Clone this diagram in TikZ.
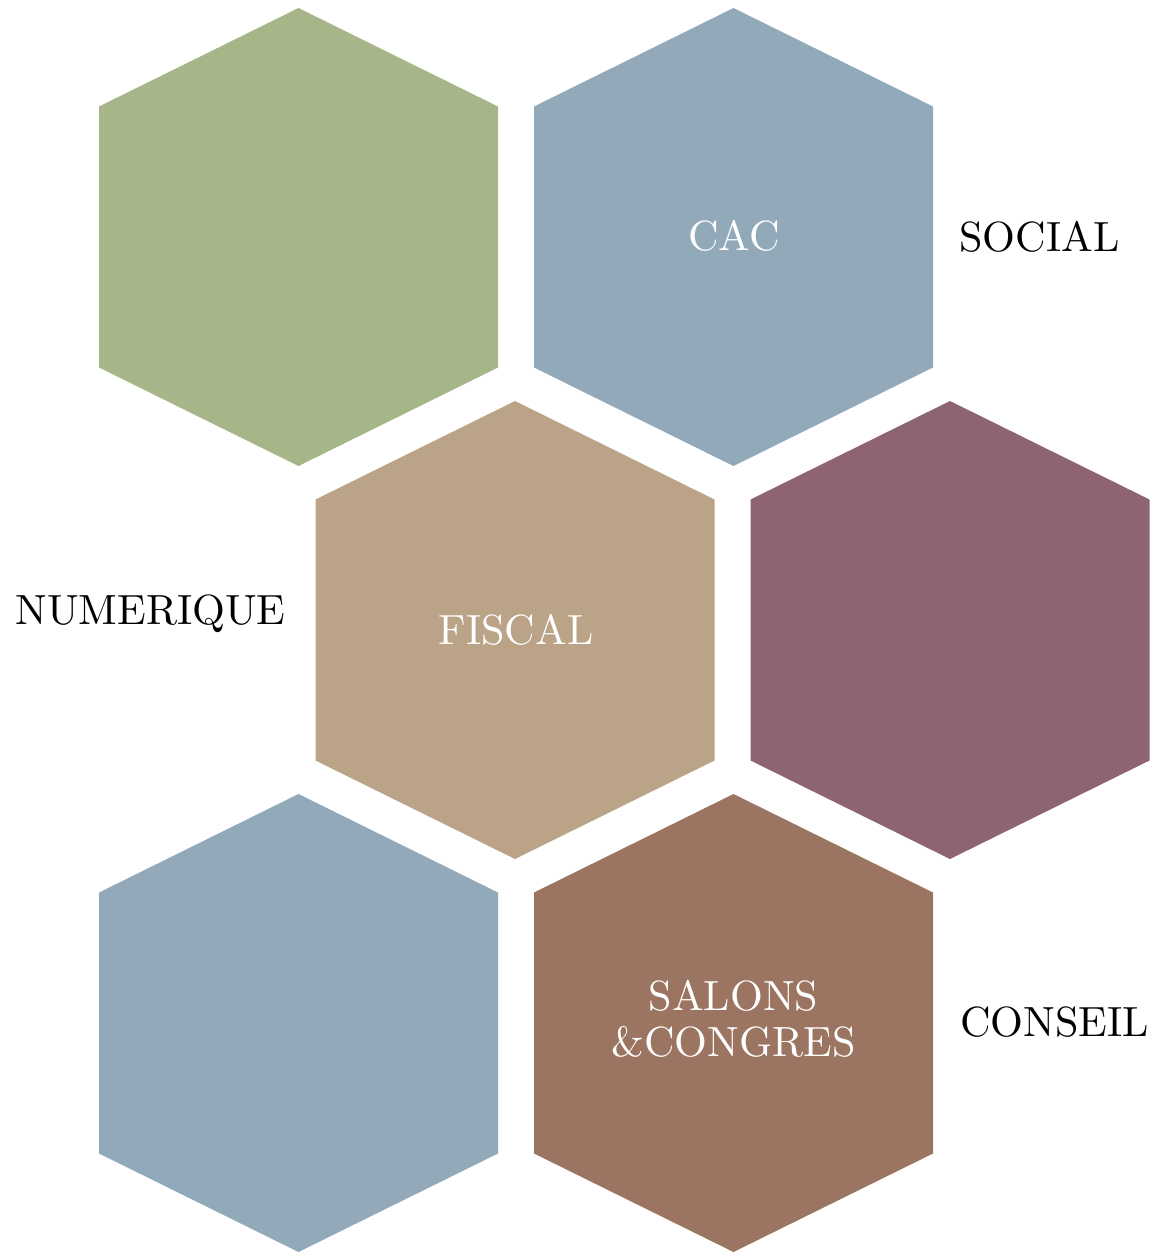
\documentclass[tikz,border=0pt]{standalone}
\usepackage{fontspec}
\newfontfamily\lmten{lmroman10-regular.otf}
\usetikzlibrary{calc}
\definecolor{hgreen}{HTML}{A7B688}
\definecolor{hblue}{HTML}{92A9BA}
\definecolor{htan}{HTML}{BBA387}
\definecolor{hpurple}{HTML}{8E6373}
\definecolor{hbrown}{HTML}{9B7462}
\begin{document}
\begin{tikzpicture}[x=0.5pt,y=-0.5pt,
  hexfill/.style={fill=#1, draw=none},
  inlabel/.style={text=white, inner sep=0pt, font=\lmten\fontsize{21.1}{23}\selectfont, align=center},
  outlabel/.style={text=black, inner sep=0pt, font=\lmten\fontsize{21.1}{23}\selectfont}]
\useasboundingbox (0,0) rectangle (1158,1255);
\newcommand{\hexpath}[2]{%
  \coordinate (#1) at (#2);
  \path[hexfill=#1col] ($(#1)+(0,-229)$) -- ($(#1)+(199.5,-130.5)$) -- ($(#1)+(199.5,130.5)$) -- ($(#1)+(0,229)$) -- ($(#1)+(-199.5,130.5)$) -- ($(#1)+(-199.5,-130.5)$) -- cycle;}
\colorlet{h1col}{hgreen}
\colorlet{h2col}{hblue}
\colorlet{h3col}{htan}
\colorlet{h4col}{hpurple}
\colorlet{h5col}{hblue}
\colorlet{h6col}{hbrown}
\hexpath{h1}{298.5,237}
\hexpath{h2}{733.5,237}
\hexpath{h3}{515,630}
\hexpath{h4}{950,630}
\hexpath{h5}{298.5,1023}
\hexpath{h6}{733.5,1023}
\node[inlabel, anchor=base] (cac) at (734,250.5) {CAC};
\node[inlabel, anchor=base] (fiscal) at (516,644) {FISCAL};
\node[inlabel] (salons) at (733.5,1019) {SALONS\\\&CONGRES};
\node[outlabel, anchor=base west] (social) at (959,251) {SOCIAL};
\node[outlabel, anchor=base west] (numerique) at (15,624) {NUMERIQUE};
\node[outlabel, anchor=base west] (conseil) at (960,1036.7) {CONSEIL};
\end{tikzpicture}
\end{document}
